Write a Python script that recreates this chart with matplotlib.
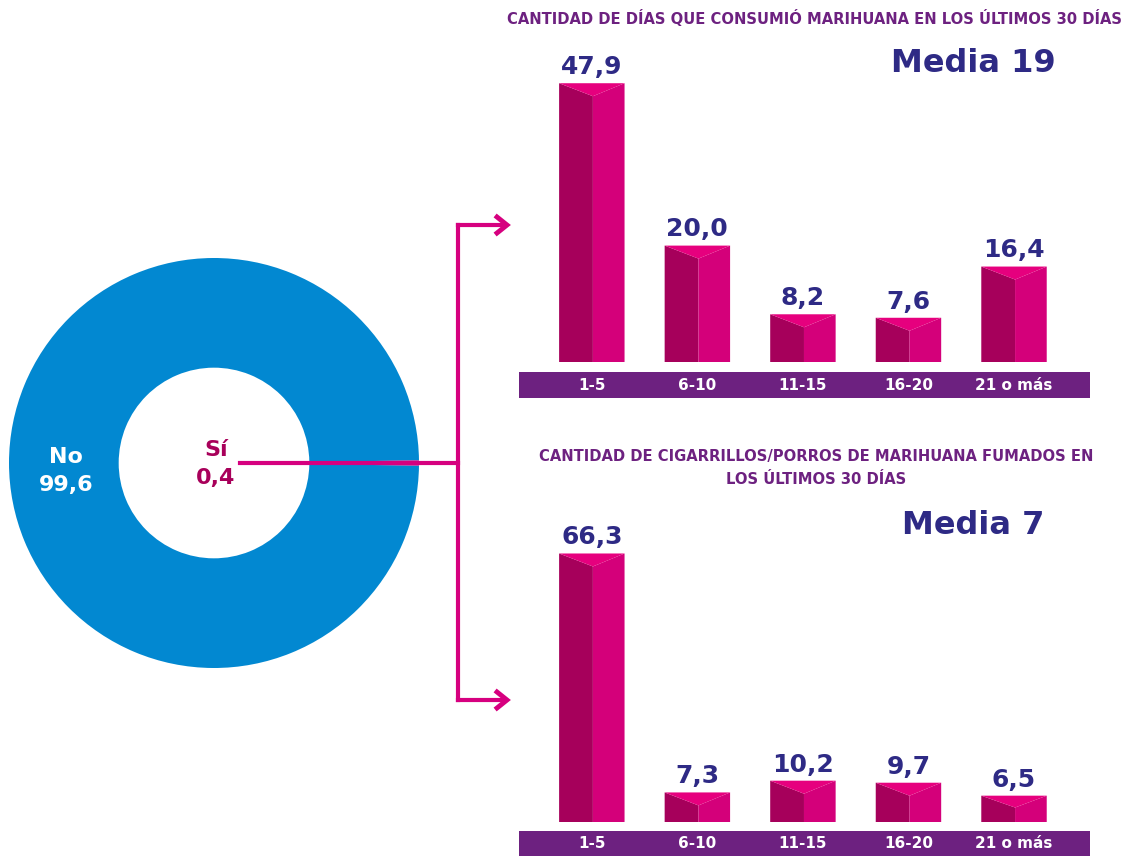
import matplotlib
matplotlib.use("Agg")
import matplotlib.pyplot as plt
from matplotlib.patches import Polygon, Rectangle

plt.rcParams['font.family'] = ['DejaVu Sans']

# data
donut_labels = ["No", "Sí"]
donut_values = [99.6, 0.4]

categories = ["1-5", "6-10", "11-15", "16-20", "21 o más"]
dias_values = [47.9, 20.0, 8.2, 7.6, 16.4]
porros_values = [66.3, 7.3, 10.2, 9.7, 6.5]

dias_title = "CANTIDAD DE DÍAS QUE CONSUMIÓ MARIHUANA EN LOS ÚLTIMOS 30 DÍAS"
porros_title = "CANTIDAD DE CIGARRILLOS/PORROS DE MARIHUANA FUMADOS EN\nLOS ÚLTIMOS 30 DÍAS"
dias_media = "Media 19"
porros_media = "Media 7"

BLUE = "#0288d1"
PURPLE = "#6d2180"
NAVY = "#2e2a85"
MAGENTA = "#d6007f"
DARK = "#a6005b"
MID = "#d4007a"
LIGHT = "#e6007e"

W, H = 1128, 856
fig = plt.figure(figsize=(W / 100, H / 100), dpi=100)


def px_box(x0, y0, x1, y1):
    # pixel box (top-left origin) -> figure fraction rect
    return [x0 / W, 1 - y1 / H, (x1 - x0) / W, (y1 - y0) / H]


def fmt(v):
    return f"{v:.1f}".replace(".", ",")


# donut
ax_d = fig.add_axes(px_box(9, 258, 419, 668))
ax_d.pie(donut_values, colors=[BLUE, MAGENTA], startangle=-0.72, counterclock=False,
         radius=1, wedgeprops=dict(width=0.535, linewidth=0))
ax_d.set_xlim(-1, 1)
ax_d.set_ylim(-1, 1)
ax_d.set_aspect("equal")
ax_d.axis("off")
ax_d.text(-0.72, -0.04, f"{donut_labels[0]}\n{fmt(donut_values[0])}",
          color="white", fontsize=16, fontweight="bold", ha="center", va="center",
          linespacing=1.5)
ax_d.text(0.01, -0.005, f"{donut_labels[1]}\n{fmt(donut_values[1])}",
          color="#a8005a", fontsize=16, fontweight="bold", ha="center", va="center",
          linespacing=1.45)

# connector lines
lw = 3
fig.add_artist(plt.Line2D([240 / W, 458 / W], [1 - 463 / H, 1 - 463 / H],
                          color=MAGENTA, lw=lw, transform=fig.transFigure))
fig.add_artist(plt.Line2D([458 / W, 458 / W], [1 - 225 / H, 1 - 700 / H],
                          color=MAGENTA, lw=lw, transform=fig.transFigure,
                          solid_capstyle="projecting"))
for yy in (225, 700):
    fig.add_artist(plt.Line2D([458 / W, 503 / W], [1 - yy / H, 1 - yy / H],
                              color=MAGENTA, lw=lw, transform=fig.transFigure))
    fig.add_artist(plt.Line2D([497 / W, 507 / W, 497 / W],
                              [1 - (yy - 8) / H, 1 - yy / H, 1 - (yy + 8) / H],
                              color=MAGENTA, lw=lw + 0.5, transform=fig.transFigure,
                              solid_joinstyle="miter"))


def bar_panel(rect, values, ylim, band_top):
    ax = fig.add_axes(rect)
    ax.set_xlim(-0.69, 4.72)
    ax.set_ylim(*ylim)
    ax.axis("off")
    px_per_unit = rect[3] * H / (ylim[1] - ylim[0])
    depth = 13 / px_per_unit
    w = 0.62
    for i, v in enumerate(values):
        x0, x1 = i - w / 2, i + w / 2
        s = i + 0.01
        d = min(depth, v * 0.45)
        ax.add_patch(Polygon([(x0, 0), (x0, v), (s, v - d), (s, 0)],
                             closed=True, fc=DARK, ec="none"))
        ax.add_patch(Polygon([(s, 0), (s, v - d), (x1, v), (x1, 0)],
                             closed=True, fc=MID, ec="none"))
        ax.add_patch(Polygon([(x0, v), (x1, v), (s, v - d)],
                             closed=True, fc=LIGHT, ec="none"))
        ax.annotate(fmt(v), (i, v), xytext=(0, 3),
                    textcoords="offset points", ha="center", va="bottom",
                    color=NAVY, fontsize=18, fontweight="bold")
    ax.add_patch(Rectangle((-0.69, ylim[0]), 5.41, band_top - ylim[0],
                           fc=PURPLE, ec="none"))
    for i, c in enumerate(categories):
        ax.text(i, (ylim[0] + band_top) / 2, c, color="white", fontsize=11,
                fontweight="bold", ha="center", va="center")
    return ax


# top panel: base at y=362px, band 372-398px
bar_panel(px_box(519, 40, 1090, 398), dias_values, (-36 / 5.82, 322 / 5.82), -10 / 5.82)
# bottom panel: base at y=822px, band 831-856px
bar_panel(px_box(519, 500, 1090, 856), porros_values, (-34 / 4.05, 322 / 4.05), -9 / 4.05)

fig.text(815 / W, 1 - 19 / H, dias_title, color=PURPLE, fontsize=10.6,
         fontweight="bold", ha="center", va="center")
fig.text(816 / W, 1 - 468 / H, porros_title, color=PURPLE, fontsize=10.6,
         fontweight="bold", ha="center", va="center", linespacing=1.7)
fig.text(973 / W, 1 - 64 / H, dias_media, color=NAVY, fontsize=23,
         fontweight="bold", ha="center", va="center")
fig.text(973 / W, 1 - 526 / H, porros_media, color=NAVY, fontsize=23,
         fontweight="bold", ha="center", va="center")

fig.savefig("out.png", dpi=100)
